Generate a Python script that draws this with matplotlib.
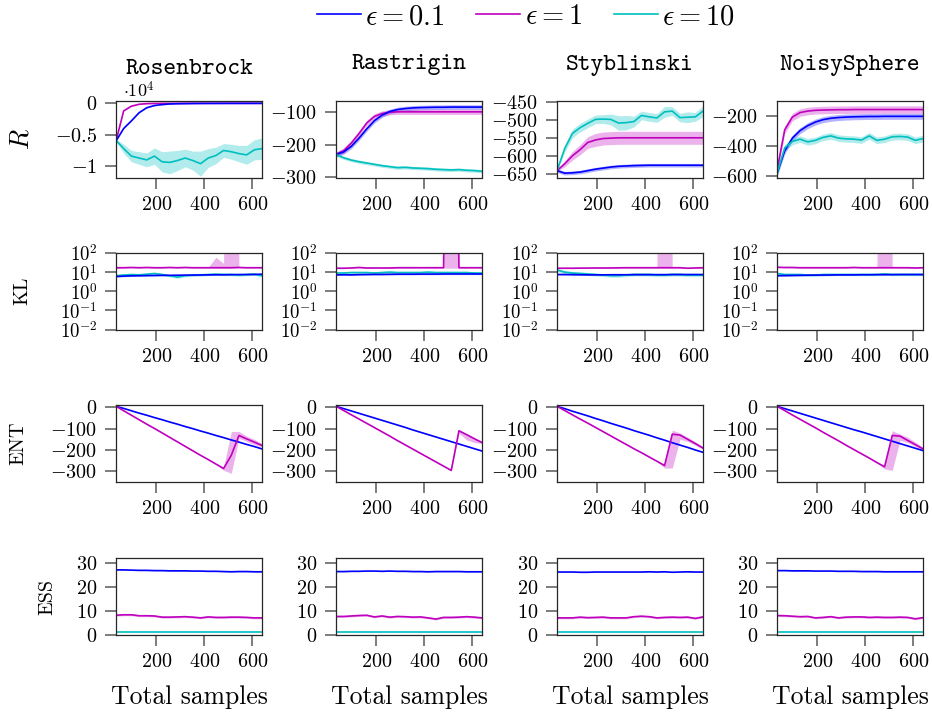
import numpy as np
import matplotlib
matplotlib.use("Agg")
import matplotlib.pyplot as plt
from matplotlib.ticker import FixedLocator, FuncFormatter, NullLocator
from matplotlib.lines import Line2D

plt.rcParams['font.family'] = ['cmr10', 'DejaVu Serif']
plt.rcParams['mathtext.fontset'] = 'cm'

# total samples
x = list(range(32, 641, 32))

eps = [0.1, 1, 10]
colors = {0.1: '#0000ff', 1: '#bf00bf', 10: '#00bfbf'}
functions = ['Rosenbrock', 'Rastrigin', 'Styblinski', 'NoisySphere']

# ---- reward R ----
rosen_R = {
    0.1: [-6000, -4000, -2800, -1500, -700, -350, -200, -100, -60, -40, -25, -15, -10, -8, -5, -4, -3, -2, -2, -1],
    1: [-6000, -1200, -450, -150, -50, -20, -10, -5, -3, -2, -1, -1, -1, 0, 0, 0, 0, 0, 0, 0],
    10: [-5900, -7200, -8400, -8700, -9000, -8400, -9300, -9400, -9100, -8700, -9100, -9600, -8700, -8300, -7500, -7700, -8000, -8200, -7400, -7200],
}
rosen_R_sd = {0.1: 40, 1: 40,
              10: [200, 700, 900, 1000, 1100, 1300, 1600, 1800, 1600, 1400, 1500, 2000, 1500, 1300, 1100, 1200, 1300, 1500, 1600, 1700]}

rastr_R = {
    0.1: [-230, -222, -205, -180, -152, -127, -110, -99, -93, -90, -88, -87, -86.5, -86, -86, -85.5, -85.5, -85.5, -85.5, -85.5],
    1: [-230, -218, -195, -166, -134, -114, -105, -101, -100, -100, -100, -100, -100, -100, -100, -100, -100, -100, -100, -100],
    10: [-230, -240, -247, -252, -256, -260, -264, -267, -270, -269, -271, -272, -273, -275, -276, -277, -276, -278, -279, -281],
}
rastr_R_sd = {0.1: 7, 1: 8, 10: 5}

styb_R = {
    0.1: [-641, -648, -647, -645, -641, -637, -634, -631, -629, -628, -627, -626.5, -626, -626, -626, -626, -626, -626, -626, -626],
    1: [-641, -622, -600, -583, -563, -556, -552, -551, -550, -550, -550, -550, -550, -550, -550, -550, -550, -550, -550, -550],
    10: [-641, -580, -538, -522, -510, -499, -498, -499, -509, -508, -505, -488, -492, -495, -478, -476, -494, -493, -492, -476],
}
styb_R_sd = {0.1: 5,
             1: [2, 8, 12, 14, 16, 18, 18, 18, 18, 18, 18, 18, 18, 18, 18, 18, 18, 18, 18, 18],
             10: [2, 10, 12, 12, 12, 12, 12, 15, 20, 20, 15, 12, 12, 12, 15, 12, 12, 15, 12, 15]}

noisy_R = {
    0.1: [-580, -430, -345, -295, -262, -238, -222, -213, -208, -205, -203, -202, -201, -201, -200, -200, -200, -200, -200, -200],
    1: [-560, -290, -205, -175, -165, -160, -158, -157, -156, -156, -155, -155, -155, -155, -155, -155, -155, -155, -155, -155],
    10: [-580, -410, -367, -352, -370, -360, -340, -330, -345, -350, -352, -358, -330, -360, -352, -336, -334, -338, -360, -348],
}
noisy_R_sd = {0.1: 20, 1: 25, 10: 22}

# ---- KL (bands as multiplicative factors: (down, up)) ----
rosen_KL = {
    0.1: [5.9, 6.2, 6.4, 6.5, 6.6, 6.7, 6.8, 6.8, 6.9, 7.0, 7.0, 7.1, 7.2, 7.3, 7.3, 7.4, 7.5, 7.5, 7.6, 7.8],
    1: [17, 17, 17.5, 17, 17.5, 17, 17, 17.5, 17, 17.5, 17, 17, 17, 17, 17, 17, 17.5, 17, 17, 17],
    10: [6.5, 7.0, 7.5, 7.2, 7.8, 8.5, 7.5, 6.5, 5.5, 6.5, 7.0, 7.2, 7.5, 7.8, 7.5, 7.5, 7.0, 7.5, 7.8, 6.5],
}
rosen_KL_f = {0.1: 1.08, 10: 1.15,
              1: (1.05, [1.05, 1.05, 1.05, 1.05, 1.05, 1.05, 1.05, 1.05, 1.05, 1.05, 1.05, 1.05, 1.06, 3.5, 1.7, 1e28, 1.06, 1.05, 1.05, 1.05])}

rastr_KL = {
    0.1: [7.2, 7.3, 7.2, 7.4, 7.5, 7.6, 7.6, 7.7, 7.8, 7.8, 7.8, 7.9, 7.9, 7.9, 8.0, 8.0, 8.0, 8.0, 8.0, 8.0],
    1: [16, 16, 16.5, 17.5, 16.5, 16.5, 16.5, 16.5, 17, 17, 17, 17, 17, 17, 17, 1e30, 17, 17, 17, 17],
    10: [9.0, 9.0, 9.5, 9.5, 9.5, 9.0, 9.5, 10, 9.5, 9.5, 9.5, 9.5, 10, 9.5, 9.5, 9.5, 9.5, 9.5, 9.0, 9.0],
}
rastr_KL_f = {0.1: 1.08, 10: 1.15,
              1: ([1.05, 1.05, 1.05, 1.05, 1.05, 1.05, 1.05, 1.05, 1.05, 1.05, 1.05, 1.05, 1.05, 1.05, 1.05, 6.25e28, 1.05, 1.05, 1.05, 1.05], 1.05)}

styb_KL = {
    0.1: [7.5, 7.5, 7.4, 7.3, 7.2, 7.2, 7.2, 7.3, 7.3, 7.3, 7.4, 7.4, 7.4, 7.4, 7.4, 7.5, 7.5, 7.5, 7.5, 7.5],
    1: [16, 16, 16, 16.2, 16.3, 16.5, 16.5, 16.5, 16.8, 17, 17, 17, 17, 17, 17, 17, 17, 16, 16.5, 17],
    10: [13, 10, 9, 8.5, 8, 7.5, 7, 6.5, 6.5, 7, 7.5, 7.5, 7.5, 7, 7, 7.5, 7.5, 7, 7, 7],
}
styb_KL_f = {0.1: 1.08, 10: 1.2,
             1: (1.05, [1.05, 1.05, 1.05, 1.05, 1.05, 1.05, 1.05, 1.05, 1.05, 1.05, 1.05, 1.05, 1.05, 1.05, 1e28, 1.05, 1.05, 1.05, 1.05, 1.05])}

noisy_KL = {
    0.1: [6.5, 6.6, 6.7, 6.8, 6.9, 7.0, 7.0, 7.1, 7.2, 7.2, 7.2, 7.3, 7.3, 7.4, 7.4, 7.4, 7.5, 7.5, 7.5, 7.5],
    1: [18, 17.5, 17.5, 17, 17, 17, 17, 17, 17, 17, 17.5, 17, 17, 17, 17, 17, 17, 17, 16.5, 17],
    10: [8.5, 7.5, 7.5, 7.5, 7, 7, 7.5, 7.5, 7.5, 7.5, 7.5, 7.5, 7.5, 7.5, 8, 7.5, 7.5, 7.5, 7.5, 7.5],
}
noisy_KL_f = {0.1: 1.08, 10: 1.15,
              1: (1.05, [1.05, 1.05, 1.05, 1.05, 1.05, 1.05, 1.05, 1.05, 1.05, 1.05, 1.05, 1.05, 1.05, 1.05, 1e28, 1.05, 1.05, 1.05, 1.05, 1.05])}

# ---- entropy ENT (bands: sd or (down, up)) ----
rosen_ENT = {
    0.1: [5, -5, -16, -27, -37, -48, -58, -69, -79, -90, -100, -111, -121, -132, -142, -153, -163, -174, -184, -195],
    1: [5, -16, -37, -58, -79, -99, -120, -141, -162, -183, -204, -225, -245, -266, -287, -225, -132, -148, -163, -179],
}
rosen_ENT_sd = {0.1: 1,
                1: ([1, 1, 1, 1, 1, 1, 1, 1, 1, 1, 1, 1, 1, 1, 8, 85, 13, 12, 12, 6],
                    [1, 1, 1, 1, 1, 1, 1, 1, 1, 1, 1, 1, 1, 1, 7, 112, 19, 13, 13, 9])}

rastr_ENT = {
    0.1: [5, -6, -17, -28, -39, -50, -61, -72, -83, -94, -106, -117, -128, -139, -150, -161, -172, -183, -194, -205],
    1: [5, -15, -35, -55, -75, -95, -115, -135, -156, -176, -196, -216, -236, -256, -276, -296, -110, -128, -147, -165],
}
rastr_ENT_sd = {0.1: 1,
                1: ([1, 1, 1, 1, 1, 1, 1, 1, 1, 1, 1, 1, 1, 1, 1, 2, 10, 25, 18, 5],
                    [1, 1, 1, 1, 1, 1, 1, 1, 1, 1, 1, 1, 1, 1, 1, 2, 3, 3, 3, 3])}

styb_ENT = {
    0.1: [5, -6, -18, -29, -40, -52, -63, -75, -86, -97, -109, -120, -131, -143, -154, -166, -177, -188, -200, -211],
    1: [5, -15, -35, -55, -74, -94, -114, -134, -154, -174, -194, -213, -233, -253, -273, -126, -130, -150, -170, -191],
}
styb_ENT_sd = {0.1: 1,
               1: ([1, 1, 1, 1, 1, 1, 1, 1, 1, 1, 1, 1, 1, 1, 12, 159, 20, 10, 8, 6],
                   [1, 1, 1, 1, 1, 1, 1, 1, 1, 1, 1, 1, 1, 1, 5, 19, 10, 10, 8, 6])}

noisy_ENT = {
    0.1: [5, -6, -17, -28, -39, -50, -61, -72, -83, -94, -105, -115, -126, -137, -148, -159, -170, -181, -192, -203],
    1: [5, -15, -36, -56, -76, -96, -117, -137, -157, -178, -198, -218, -238, -259, -279, -132, -135, -155, -175, -195],
}
noisy_ENT_sd = {0.1: 1,
                1: ([1, 1, 1, 1, 1, 1, 1, 1, 1, 1, 1, 1, 1, 1, 10, 164, 20, 10, 8, 5],
                    [1, 1, 1, 1, 1, 1, 1, 1, 1, 1, 1, 1, 1, 1, 5, 22, 10, 15, 12, 8])}

# ---- effective sample size ESS ----
rosen_ESS = {
    0.1: [27.2, 27.2, 27.1, 27.0, 27.0, 26.9, 26.9, 26.8, 26.8, 26.8, 26.7, 26.7, 26.6, 26.6, 26.5, 26.4, 26.5, 26.5, 26.4, 26.4],
    1: [8.1, 8.3, 8.3, 7.9, 7.9, 7.8, 7.3, 7.3, 7.4, 7.5, 7.3, 7.0, 7.4, 7.2, 7.2, 7.3, 7.3, 7.2, 7.0, 7.0],
    10: [1.0, 1.0, 1.0, 1.0, 1.0, 1.0, 1.0, 1.0, 1.0, 1.0, 1.0, 1.0, 1.0, 1.0, 1.0, 1.0, 1.0, 1.0, 1.0, 1.0],
}
rastr_ESS = {
    0.1: [26.5, 26.5, 26.6, 26.6, 26.7, 26.7, 26.6, 26.7, 26.6, 26.6, 26.5, 26.5, 26.4, 26.5, 26.5, 26.5, 26.5, 26.4, 26.4, 26.4],
    1: [7.6, 7.6, 7.8, 8.0, 8.1, 7.4, 7.8, 7.3, 7.6, 7.5, 7.3, 7.4, 7.0, 6.5, 7.2, 7.2, 7.3, 7.5, 7.3, 7.0],
    10: [1.0, 1.0, 1.0, 1.0, 1.0, 1.0, 1.0, 1.0, 1.0, 1.0, 1.0, 1.0, 1.0, 1.0, 1.0, 1.0, 1.0, 1.0, 1.0, 1.0],
}
styb_ESS = {
    0.1: [26.3, 26.3, 26.3, 26.2, 26.2, 26.3, 26.3, 26.3, 26.3, 26.3, 26.3, 26.3, 26.4, 26.3, 26.4, 26.2, 26.3, 26.4, 26.3, 26.3],
    1: [7.0, 7.0, 7.0, 7.3, 7.1, 7.2, 7.3, 7.0, 7.0, 7.0, 7.5, 7.7, 7.5, 7.0, 7.2, 7.3, 7.2, 7.3, 6.8, 7.4],
    10: [1.0, 1.0, 1.0, 1.0, 1.0, 1.0, 1.0, 1.0, 1.0, 1.0, 1.0, 1.0, 1.0, 1.0, 1.0, 1.0, 1.0, 1.0, 1.0, 1.0],
}
noisy_ESS = {
    0.1: [26.9, 26.9, 26.8, 26.8, 26.8, 26.7, 26.7, 26.7, 26.6, 26.6, 26.6, 26.5, 26.5, 26.5, 26.4, 26.4, 26.4, 26.4, 26.4, 26.4],
    1: [8.0, 7.9, 7.7, 7.5, 7.6, 7.0, 7.2, 7.5, 7.0, 7.3, 7.4, 7.4, 7.2, 7.3, 7.2, 7.2, 7.3, 7.2, 6.6, 7.1],
    10: [1.0, 1.0, 1.0, 1.0, 1.0, 1.0, 1.0, 1.0, 1.0, 1.0, 1.0, 1.0, 1.0, 1.0, 1.0, 1.0, 1.0, 1.0, 1.0, 1.0],
}
ESS_sd = {0.1: 0.15, 1: 0.4, 10: 0.05}

R_data = [(rosen_R, rosen_R_sd), (rastr_R, rastr_R_sd), (styb_R, styb_R_sd), (noisy_R, noisy_R_sd)]
KL_data = [(rosen_KL, rosen_KL_f), (rastr_KL, rastr_KL_f), (styb_KL, styb_KL_f), (noisy_KL, noisy_KL_f)]
ENT_data = [(rosen_ENT, rosen_ENT_sd), (rastr_ENT, rastr_ENT_sd), (styb_ENT, styb_ENT_sd), (noisy_ENT, noisy_ENT_sd)]
ESS_data = [(rosen_ESS, ESS_sd), (rastr_ESS, ESS_sd), (styb_ESS, ESS_sd), (noisy_ESS, ESS_sd)]

R_lims = [(-11800, 370), (-300, -67), (-660, -448), (-607, -98)]
R_ticks = [[-10000, -5000, 0], [-300, -200, -100], [-650, -600, -550, -500, -450], [-600, -400, -200]]


def band(m, s, mult=False):
    m = np.array(m, dtype=float)
    if isinstance(s, tuple):
        dn, up = np.array(s[0], dtype=float), np.array(s[1], dtype=float)
    else:
        dn = up = np.array(s, dtype=float)
    if mult:
        return m / dn, m * up
    return m - dn, m + up


W, H = 932, 716
fig = plt.figure(figsize=(W / 100, H / 100), dpi=100)

col_left = [116, 336, 557, 777]
col_w = 146
row_top = [101, 253, 405, 558]
row_h = 76.5


def plain_fmt(v, pos):
    return rf"${v:g}$"


def rosen_fmt(v, pos):
    return rf"${v / 1e4:g}$"


def log_fmt(v, pos):
    return rf"$10^{{{int(round(np.log10(v)))}}}$"


axes = [[None] * 4 for _ in range(4)]
for r in range(4):
    for c in range(4):
        ax = fig.add_axes([col_left[c] / W, 1 - (row_top[r] + row_h) / H, col_w / W, row_h / H])
        axes[r][c] = ax
        for sp in ax.spines.values():
            sp.set_color('0.15')
            sp.set_linewidth(0.9)
        ax.tick_params(direction='out', length=8, width=1.1, color='0.35', labelsize=14.5, pad=5.5)
        ax.set_xlim(32, 640)
        ax.xaxis.set_major_locator(FixedLocator([200, 400, 600]))
        ax.xaxis.set_major_formatter(FuncFormatter(plain_fmt))

lw = 1.2
alpha = 0.3
for c in range(4):
    # R row
    ax = axes[0][c]
    m, s = R_data[c]
    for e in eps:
        lo, hi = band(m[e], s[e])
        ax.fill_between(x, lo, hi, color=colors[e], alpha=alpha, lw=0)
    for e in [1, 0.1, 10]:
        ax.plot(x, m[e], color=colors[e], lw=lw)
    ax.set_ylim(*R_lims[c])
    ax.yaxis.set_major_locator(FixedLocator(R_ticks[c]))
    ax.yaxis.set_major_formatter(FuncFormatter(rosen_fmt if c == 0 else plain_fmt))

    # KL row
    ax = axes[1][c]
    m, s = KL_data[c]
    ax.set_yscale('log')
    for e in eps:
        lo, hi = band(m[e], s[e], mult=True)
        ax.fill_between(x, lo, hi, color=colors[e], alpha=alpha, lw=0)
    for e in [10, 0.1, 1]:
        ax.plot(x, m[e], color=colors[e], lw=lw)
    ax.set_ylim(1e-2, 1e2)
    ax.yaxis.set_major_locator(FixedLocator([1e-2, 1e-1, 1e0, 1e1, 1e2]))
    ax.yaxis.set_minor_locator(NullLocator())
    ax.yaxis.set_major_formatter(FuncFormatter(log_fmt))
    ax.tick_params(axis='y', labelsize=13.5)

    # ENT row
    ax = axes[2][c]
    m, s = ENT_data[c]
    for e in [0.1, 1]:
        lo, hi = band(m[e], s[e])
        ax.fill_between(x, lo, hi, color=colors[e], alpha=alpha, lw=0)
    for e in [0.1, 1]:
        ax.plot(x, m[e], color=colors[e], lw=lw)
    ax.set_ylim(-348, 11)
    ax.yaxis.set_major_locator(FixedLocator([-300, -200, -100, 0]))
    ax.yaxis.set_major_formatter(FuncFormatter(plain_fmt))

    # ESS row
    ax = axes[3][c]
    m, s = ESS_data[c]
    for e in eps:
        lo, hi = band(m[e], s[e])
        ax.fill_between(x, lo, hi, color=colors[e], alpha=alpha, lw=0)
    for e in eps:
        ax.plot(x, m[e], color=colors[e], lw=lw)
    ax.set_ylim(0, 32.2)
    ax.yaxis.set_major_locator(FixedLocator([0, 10, 20, 30]))
    ax.yaxis.set_major_formatter(FuncFormatter(plain_fmt))

# offset text for Rosenbrock
axes[0][0].text(0.05, 1.01, r"$\cdot 10^4$", transform=axes[0][0].transAxes,
                fontsize=13, ha='left', va='bottom')

# column titles
title_base = [74, 69, 70, 70]
for c, name in enumerate(functions):
    fig.text((col_left[c] + col_w / 2) / W, 1 - title_base[c] / H, name,
             fontfamily='cmtt10', fontsize=17.5, ha='center', va='baseline')
    fig.text((col_left[c] + col_w / 2) / W, 1 - 697 / H, 'Total samples',
             fontsize=18.5, ha='center', va='center')

# row labels
fig.text(22 / W, 1 - 139 / H, r"$R$", fontsize=19, rotation=90, ha='center', va='center')
fig.text(22 / W, 1 - 291 / H, "KL", fontsize=14.5, rotation=90, ha='center', va='center')
fig.text(18 / W, 1 - 443 / H, "ENT", fontsize=14.5, rotation=90, ha='center', va='center')
fig.text(47 / W, 1 - 597 / H, "ESS", fontsize=14.5, rotation=90, ha='center', va='center')

handles = [Line2D([], [], color=colors[e], lw=lw) for e in eps]
labels = [r"$\epsilon = 0.1$", r"$\epsilon = 1$", r"$\epsilon = 10$"]
fig.legend(handles, labels, loc='center', bbox_to_anchor=(526 / W, 1 - 17 / H), ncol=3,
           frameon=False, fontsize=20.5, handlelength=1.55, handletextpad=0.15, columnspacing=1.1,
           borderaxespad=0, borderpad=0)

fig.savefig('out.png', dpi=100)
